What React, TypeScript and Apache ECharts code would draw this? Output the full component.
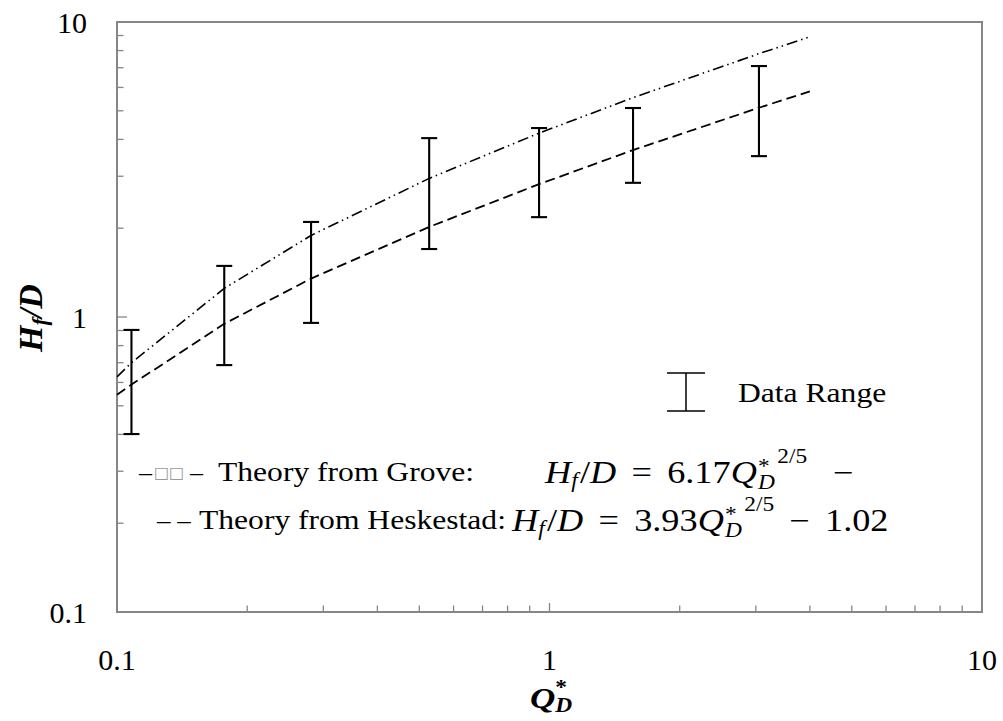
import React, { useEffect, useRef } from 'react';
import * as echarts from 'echarts';

// ---- data ----
const xMinorTicks = [0.2, 0.3, 0.4, 0.5, 0.6, 0.7, 0.8, 0.9, 1, 2, 3, 4, 5, 6, 7, 8, 9];
const yMinorTicks = [0.2, 0.3, 0.4, 0.5, 0.6, 0.7, 0.8, 0.9, 1, 2, 3, 4, 5, 6, 7, 8, 9];

const barQ = [0.108, 0.177, 0.281, 0.527, 0.946, 1.56, 3.05];
const barLow = [0.401, 0.687, 0.955, 1.7, 2.18, 2.85, 3.51];
const barHigh = [0.904, 1.49, 2.1, 4.04, 4.37, 5.11, 7.09];

const curveQ = [0.1, 0.108, 0.177, 0.281, 0.527, 0.946, 1.56, 3.05, 4.0];
const groveHf = [0.627, 0.7, 1.25, 1.89, 2.95, 4.2, 5.54, 7.81, 8.91];
const heskHf = [0.545, 0.59, 0.948, 1.35, 2.02, 2.82, 3.68, 5.12, 5.82];

const SERIF = 'Liberation Serif';
const AXIS = '#868686';
const STRETCH = 1.17;

type Piece = {
  t: string;
  size: number;
  italic?: boolean;
  bold?: boolean;
  dy?: number;
  stack?: boolean;
  gap?: number;
  color?: string;
  family?: string;
};

let measureCtx: CanvasRenderingContext2D | null = null;
function measure(text: string, font: string): number {
  if (!measureCtx) measureCtx = document.createElement('canvas').getContext('2d');
  measureCtx!.font = font;
  return measureCtx!.measureText(text).width;
}

function mathGroup(
  pieces: Piece[],
  x: number,
  y: number,
  anchor: 'left' | 'center',
  rotation = 0,
  scaleX = 1
) {
  let cx = 0;
  let prevStart = 0;
  const children: any[] = [];
  for (const p of pieces) {
    const fam = p.family || SERIF;
    const font = `${p.italic ? 'italic ' : ''}${p.bold ? 'bold ' : ''}${p.size}px ${fam}`;
    const w = measure(p.t, font);
    const start = p.stack ? prevStart : cx + (p.gap || 0);
    children.push({
      type: 'text',
      x: start,
      y: p.dy || 0,
      style: {
        text: p.t,
        fontSize: p.size,
        fontFamily: fam,
        fontStyle: p.italic ? 'italic' : 'normal',
        fontWeight: p.bold ? 'bold' : 'normal',
        fill: p.color || '#000',
        align: 'left',
        verticalAlign: 'middle',
      },
    });
    if (p.stack) {
      cx = Math.max(cx, start + w);
    } else {
      prevStart = start;
      cx = start + w;
    }
  }
  const total = cx;
  const shift = anchor === 'center' ? -total / 2 : 0;
  children.forEach((c) => (c.x += shift));
  return { type: 'group', x, y, rotation, scaleX, children };
}

export default function App() {
  const ref = useRef<HTMLDivElement>(null);
  useEffect(() => {
    document.body.style.margin = '0';
    const chart = echarts.init(ref.current!, null, { renderer: 'svg' });

    const tickSeries = (vals: number[], dir: 'x' | 'y') => ({
      type: 'custom',
      silent: true,
      clip: false,
      data: vals.map((v) => (dir === 'x' ? [v, 0.1] : [0.1, v])),
      renderItem: (params: any, api: any) => {
        const vx = api.value(0);
        const vy = api.value(1);
        const p = api.coord([vx, vy]);
        const v = dir === 'x' ? vx : vy;
        const len = Math.abs(v - 1) < 1e-9 ? (dir === 'x' ? 9 : 10) : 6.5;
        const shape =
          dir === 'x'
            ? { x1: p[0], y1: p[1], x2: p[0], y2: p[1] - len }
            : { x1: p[0], y1: p[1], x2: p[0] + len, y2: p[1] };
        return { type: 'line', shape, style: { stroke: AXIS, lineWidth: 1.3 } };
      },
      z: 3,
    });

    const legendBar = {
      type: 'group',
      children: [
        { type: 'line', shape: { x1: 686, y1: 373, x2: 686, y2: 411 }, style: { stroke: '#000', lineWidth: 1.5 } },
        { type: 'line', shape: { x1: 667, y1: 373, x2: 705, y2: 373 }, style: { stroke: '#000', lineWidth: 1.5 } },
        { type: 'line', shape: { x1: 667, y1: 411, x2: 705, y2: 411 }, style: { stroke: '#000', lineWidth: 1.5 } },
      ],
    };

    const txt = (text: string, x: number, y: number, size: number, extra: any = {}, scaleX = STRETCH) => ({
      type: 'text',
      x,
      y,
      scaleX,
      style: {
        text,
        fontSize: size,
        fontFamily: SERIF,
        fill: '#000',
        align: 'left',
        verticalAlign: 'middle',
        ...extra,
      },
    });

    const eqSize = 31;
    const subSize = 20;
    const eqPieces = (coef: string, tail: Piece[]): Piece[] => [
      { t: 'H', size: eqSize, italic: true },
      { t: 'f', size: subSize, italic: true, dy: 9 },
      { t: '/', size: eqSize, gap: 2 },
      { t: 'D', size: eqSize, italic: true },
      { t: '=', size: eqSize, gap: 13 },
      { t: coef, size: eqSize, gap: 13 },
      { t: 'Q', size: eqSize, italic: true },
      { t: '*', size: subSize, dy: -5, gap: 1 },
      { t: 'D', size: subSize, italic: true, dy: 11, stack: true },
      { t: '2/5', size: subSize, dy: -15, gap: 2 },
      ...tail,
    ];
    const eq1 = mathGroup(
      eqPieces('6.17', [{ t: '\u2212', size: eqSize, gap: 22 }]),
      545,
      472,
      'left',
      0,
      STRETCH
    );
    const eq2 = mathGroup(
      eqPieces('3.93', [
        { t: '\u2212', size: eqSize, gap: 13 },
        { t: '1.02', size: eqSize, gap: 13 },
      ]),
      512,
      520,
      'left',
      0,
      STRETCH
    );

    const xTitle = mathGroup(
      [
        { t: 'Q', size: 30, italic: true, bold: true },
        { t: '*', size: 20, bold: true, dy: -10 },
        { t: 'D', size: 20, italic: true, bold: true, dy: 8, stack: true },
      ],
      551,
      698,
      'center',
      0,
      STRETCH
    );
    const yTitle = mathGroup(
      [
        { t: 'H', size: 34, italic: true, bold: true },
        { t: 'f', size: 22, italic: true, bold: true, dy: 9 },
        { t: '/D', size: 34, italic: true, bold: true },
      ],
      30,
      318,
      'center',
      Math.PI / 2
    );

    const option: any = {
      animation: false,
      backgroundColor: '#fff',
      textStyle: { fontFamily: SERIF },
      grid: {
        left: 117,
        right: 21,
        top: 22,
        bottom: 109,
        show: true,
        borderColor: AXIS,
        borderWidth: 2,
        backgroundColor: 'transparent',
      },
      xAxis: {
        type: 'log',
        logBase: 10,
        min: 0.1,
        max: 10,
        axisLine: { show: true, lineStyle: { color: AXIS, width: 2 } },
        axisTick: { show: false },
        minorTick: { show: false },
        splitLine: { show: false },
        axisLabel: {
          color: '#000',
          fontFamily: SERIF,
          fontSize: 30,
          margin: 32,
          formatter: (v: number) => String(Number(v.toPrecision(3))),
        },
      },
      yAxis: {
        type: 'log',
        logBase: 10,
        min: 0.1,
        max: 10,
        axisLine: { show: true, lineStyle: { color: AXIS, width: 2 } },
        axisTick: { show: false },
        minorTick: { show: false },
        splitLine: { show: false },
        axisLabel: {
          color: '#000',
          fontFamily: SERIF,
          fontSize: 30,
          margin: 30,
          formatter: (v: number) => String(Number(v.toPrecision(3))),
        },
      },
      series: [
        tickSeries(xMinorTicks, 'x'),
        tickSeries(yMinorTicks, 'y'),
        {
          name: 'Grove',
          type: 'line',
          data: curveQ.map((q, i) => [q, groveHf[i]]),
          symbol: 'none',
          lineStyle: { color: '#000', width: 1.6, type: [11, 4, 1.5, 4, 1.5, 4] },
          z: 4,
        },
        {
          name: 'Heskestad',
          type: 'line',
          data: curveQ.map((q, i) => [q, heskHf[i]]),
          symbol: 'none',
          lineStyle: { color: '#000', width: 1.8, type: [10, 5] },
          z: 4,
        },
        {
          name: 'Data Range',
          type: 'custom',
          data: barQ.map((q, i) => [q, barLow[i], barHigh[i]]),
          encode: { x: 0, y: [1, 2] },
          renderItem: (params: any, api: any) => {
            const x = api.value(0);
            const pl = api.coord([x, api.value(1)]);
            const ph = api.coord([x, api.value(2)]);
            const hw = 8;
            const st = { stroke: '#000', lineWidth: 2.1 };
            return {
              type: 'group',
              children: [
                { type: 'line', shape: { x1: pl[0], y1: pl[1], x2: ph[0], y2: ph[1] }, style: st },
                { type: 'line', shape: { x1: pl[0] - hw, y1: pl[1], x2: pl[0] + hw, y2: pl[1] }, style: st },
                { type: 'line', shape: { x1: ph[0] - hw, y1: ph[1], x2: ph[0] + hw, y2: ph[1] }, style: st },
              ],
            };
          },
          z: 5,
        },
      ],
      graphic: [
        legendBar,
        txt('Data Range', 738, 393, 27),
        txt('\u2013', 139, 472, 26, {}, 1),
        txt('\u25A1\u25A1', 154, 472, 16, { fill: '#9a9a9a', fontFamily: 'DejaVu Sans' }, 1),
        txt('\u2013', 190, 472, 26, {}, 1),
        txt('Theory from Grove:', 218, 472, 27),
        txt('\u2013 \u2013', 157, 520, 27, {}, 1),
        txt('Theory from Heskestad:', 199, 520, 27),
        eq1,
        eq2,
        xTitle,
        yTitle,
      ],
    };
    chart.setOption(option);
    return () => chart.dispose();
  }, []);
  return <div ref={ref} style={{ width: 1003, height: 721 }} />;
}
